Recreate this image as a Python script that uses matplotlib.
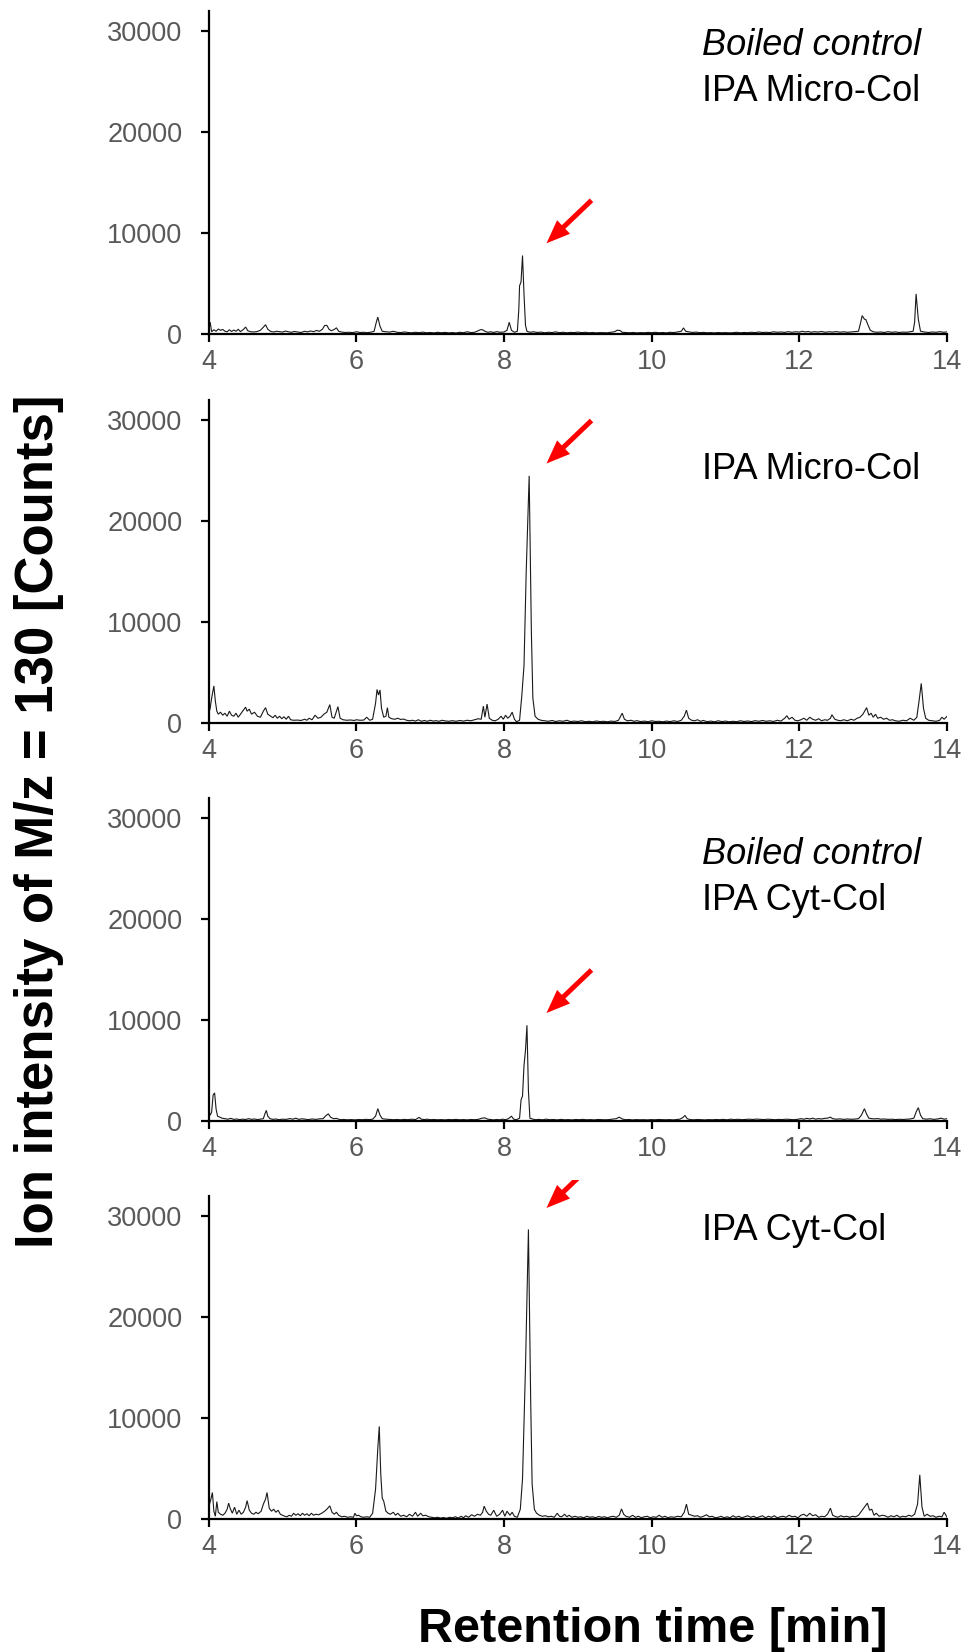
import matplotlib
matplotlib.use("Agg")
import matplotlib.pyplot as plt
import numpy as np
from matplotlib import font_manager as fm
from matplotlib.patches import Rectangle

plt.rcParams['font.family'] = ['Liberation Sans', 'DejaVu Sans']

# ---------------- data (retention time [min], counts) ----------------
boiled_micro = [
    (4.00, 300), (4.02, 1200), (4.04, 250), (4.07, 450), (4.10, 300), (4.13, 520), (4.16, 400), (4.19, 480),
    (4.22, 300), (4.25, 250), (4.28, 450), (4.31, 280), (4.34, 420), (4.37, 300), (4.40, 500), (4.43, 260),
    (4.47, 480), (4.50, 720), (4.53, 350), (4.57, 250), (4.61, 230), (4.65, 260), (4.70, 400), (4.74, 700),
    (4.77, 950), (4.80, 500), (4.84, 280), (4.88, 230), (4.92, 300), (4.96, 260), (5.00, 220), (5.04, 320),
    (5.08, 250), (5.12, 200), (5.16, 280), (5.20, 230), (5.25, 180), (5.30, 300), (5.34, 240), (5.38, 330),
    (5.42, 260), (5.46, 380), (5.50, 300), (5.54, 500), (5.57, 870), (5.60, 880), (5.63, 500), (5.66, 350),
    (5.70, 480), (5.73, 640), (5.76, 300), (5.80, 220), (5.85, 180), (5.90, 200), (5.95, 170), (6.00, 250),
    (6.05, 180), (6.10, 200), (6.15, 160), (6.20, 220), (6.24, 300), (6.27, 1200), (6.29, 1700), (6.32, 800),
    (6.35, 300), (6.40, 250), (6.45, 220), (6.50, 300), (6.55, 200), (6.60, 170), (6.65, 230), (6.70, 180),
    (6.75, 150), (6.80, 200), (6.85, 160), (6.90, 220), (6.95, 150), (7.00, 180), (7.05, 140), (7.10, 200),
    (7.15, 150), (7.20, 190), (7.25, 140), (7.30, 170), (7.35, 130), (7.40, 200), (7.45, 160), (7.50, 250),
    (7.55, 170), (7.60, 200), (7.65, 350), (7.68, 460), (7.71, 450), (7.74, 300), (7.78, 200), (7.82, 250),
    (7.86, 180), (7.90, 260), (7.95, 200), (8.00, 230), (8.04, 400), (8.07, 1190), (8.10, 400), (8.14, 200),
    (8.18, 300), (8.20, 2500), (8.21, 4800), (8.23, 5200), (8.25, 7800), (8.27, 4000), (8.29, 900), (8.31, 300),
    (8.35, 200), (8.40, 250), (8.45, 180), (8.50, 220), (8.55, 150), (8.60, 200), (8.65, 170), (8.70, 240),
    (8.75, 160), (8.80, 200), (8.85, 150), (8.90, 190), (8.95, 170), (9.00, 220), (9.05, 160), (9.10, 200),
    (9.15, 150), (9.20, 180), (9.25, 140), (9.30, 170), (9.35, 160), (9.40, 150), (9.45, 200), (9.50, 260),
    (9.53, 400), (9.57, 380), (9.60, 200), (9.65, 170), (9.70, 150), (9.75, 180), (9.80, 140), (9.85, 170),
    (9.90, 150), (9.95, 190), (10.00, 160), (10.05, 200), (10.10, 150), (10.15, 180), (10.20, 140), (10.25, 200),
    (10.30, 170), (10.35, 240), (10.40, 300), (10.43, 630), (10.46, 300), (10.50, 250), (10.55, 180), (10.60, 220),
    (10.65, 160), (10.70, 190), (10.75, 150), (10.80, 170), (10.85, 140), (10.90, 180), (10.95, 150), (11.00, 170),
    (11.05, 140), (11.10, 160), (11.15, 200), (11.20, 150), (11.25, 180), (11.30, 160), (11.35, 200), (11.40, 170),
    (11.45, 230), (11.50, 180), (11.55, 200), (11.60, 170), (11.65, 250), (11.70, 200), (11.75, 230), (11.80, 190),
    (11.85, 260), (11.90, 200), (11.95, 250), (12.00, 220), (12.04, 300), (12.08, 230), (12.12, 280), (12.16, 200),
    (12.20, 260), (12.25, 220), (12.30, 280), (12.35, 200), (12.40, 250), (12.45, 220), (12.50, 270), (12.55, 210),
    (12.60, 250), (12.65, 200), (12.70, 230), (12.75, 260), (12.80, 300), (12.83, 1200), (12.85, 1850), (12.88, 1500),
    (12.90, 1450), (12.93, 900), (12.96, 400), (13.00, 250), (13.05, 200), (13.10, 230), (13.15, 180), (13.20, 260),
    (13.25, 200), (13.30, 240), (13.35, 180), (13.40, 220), (13.45, 200), (13.50, 250), (13.54, 300), (13.56, 1200),
    (13.58, 4000), (13.61, 1500), (13.64, 300), (13.70, 220), (13.75, 180), (13.80, 230), (13.85, 200), (13.90, 260),
    (13.95, 200), (14.00, 240),
]

micro = [
    (4.00, 900), (4.02, 1500), (4.04, 2500), (4.07, 3700), (4.09, 2200), (4.11, 1200), (4.13, 900), (4.16, 1100),
    (4.19, 800), (4.22, 1000), (4.25, 700), (4.28, 1200), (4.31, 800), (4.34, 700), (4.37, 1000), (4.40, 600),
    (4.43, 900), (4.47, 1300), (4.50, 1600), (4.52, 1200), (4.55, 1400), (4.58, 900), (4.62, 1100), (4.66, 700),
    (4.70, 600), (4.74, 1200), (4.77, 1550), (4.80, 900), (4.84, 700), (4.87, 550), (4.90, 800), (4.93, 500),
    (4.96, 700), (4.99, 450), (5.02, 650), (5.05, 400), (5.08, 700), (5.11, 350), (5.15, 300), (5.20, 320),
    (5.25, 280), (5.30, 400), (5.33, 300), (5.36, 500), (5.40, 350), (5.44, 800), (5.48, 500), (5.52, 600),
    (5.56, 900), (5.60, 1100), (5.64, 1850), (5.67, 600), (5.70, 500), (5.75, 1650), (5.78, 500), (5.82, 350),
    (5.87, 300), (5.92, 330), (5.97, 280), (6.00, 350), (6.05, 300), (6.10, 320), (6.14, 600), (6.18, 300),
    (6.22, 400), (6.26, 2000), (6.28, 3350), (6.30, 2800), (6.32, 3300), (6.34, 1500), (6.37, 600), (6.40, 700),
    (6.42, 1550), (6.44, 600), (6.48, 450), (6.52, 400), (6.56, 500), (6.60, 380), (6.64, 420), (6.68, 300),
    (6.72, 250), (6.76, 300), (6.80, 220), (6.84, 350), (6.88, 200), (6.92, 280), (6.96, 200), (7.00, 300),
    (7.04, 220), (7.08, 260), (7.12, 200), (7.16, 300), (7.20, 240), (7.25, 200), (7.30, 260), (7.35, 200),
    (7.40, 280), (7.45, 220), (7.50, 300), (7.55, 250), (7.60, 350), (7.65, 450), (7.69, 400), (7.72, 1700),
    (7.74, 600), (7.77, 1900), (7.80, 500), (7.84, 300), (7.88, 250), (7.92, 400), (7.96, 700), (7.99, 400),
    (8.02, 800), (8.05, 500), (8.08, 700), (8.11, 1100), (8.14, 400), (8.17, 150), (8.21, 300), (8.24, 2700),
    (8.27, 5700), (8.30, 15000), (8.34, 24500), (8.37, 9000), (8.39, 2500), (8.42, 700), (8.46, 400), (8.50, 300),
    (8.55, 250), (8.60, 200), (8.65, 280), (8.70, 180), (8.75, 250), (8.80, 200), (8.85, 300), (8.90, 170),
    (8.95, 220), (9.00, 180), (9.05, 250), (9.10, 160), (9.15, 200), (9.20, 150), (9.25, 230), (9.30, 170),
    (9.35, 200), (9.40, 150), (9.45, 220), (9.50, 180), (9.55, 300), (9.60, 1000), (9.63, 400), (9.67, 250),
    (9.72, 300), (9.76, 200), (9.80, 260), (9.85, 170), (9.90, 220), (9.95, 160), (10.00, 250), (10.05, 180),
    (10.10, 200), (10.15, 150), (10.20, 220), (10.25, 170), (10.30, 250), (10.35, 180), (10.40, 300), (10.44, 700),
    (10.47, 1300), (10.50, 500), (10.54, 300), (10.58, 250), (10.62, 350), (10.66, 200), (10.70, 280), (10.75, 160),
    (10.80, 220), (10.85, 150), (10.90, 250), (10.95, 170), (11.00, 220), (11.05, 150), (11.10, 200), (11.15, 160),
    (11.20, 250), (11.25, 180), (11.30, 230), (11.35, 170), (11.40, 260), (11.45, 200), (11.50, 280), (11.55, 200),
    (11.60, 250), (11.65, 180), (11.70, 300), (11.75, 220), (11.80, 500), (11.83, 750), (11.86, 400), (11.90, 600),
    (11.94, 300), (11.98, 250), (12.02, 350), (12.06, 500), (12.10, 300), (12.14, 600), (12.18, 400), (12.22, 300),
    (12.26, 450), (12.30, 250), (12.34, 350), (12.38, 300), (12.42, 500), (12.44, 850), (12.48, 400), (12.52, 300),
    (12.56, 250), (12.60, 350), (12.65, 250), (12.70, 400), (12.74, 300), (12.78, 500), (12.82, 600), (12.86, 900),
    (12.91, 1550), (12.94, 800), (12.97, 1000), (13.00, 600), (13.03, 900), (13.06, 500), (13.10, 600), (13.14, 400),
    (13.18, 500), (13.22, 300), (13.26, 350), (13.30, 250), (13.35, 200), (13.40, 300), (13.45, 250), (13.50, 500),
    (13.55, 300), (13.59, 600), (13.62, 2200), (13.65, 3950), (13.68, 1500), (13.71, 500), (13.75, 300), (13.80, 250),
    (13.85, 200), (13.90, 300), (13.93, 600), (13.96, 400), (14.00, 700),
]

boiled_cyt = [
    (4.00, 1000), (4.02, 600), (4.04, 900), (4.06, 2600), (4.08, 2800), (4.10, 1200), (4.12, 500), (4.15, 400),
    (4.18, 300), (4.22, 250), (4.26, 200), (4.30, 280), (4.34, 180), (4.38, 220), (4.42, 160), (4.46, 200),
    (4.50, 170), (4.54, 250), (4.58, 180), (4.62, 220), (4.66, 160), (4.70, 200), (4.74, 250), (4.76, 700),
    (4.78, 1070), (4.80, 500), (4.83, 250), (4.87, 180), (4.91, 220), (4.95, 150), (5.00, 200), (5.05, 180),
    (5.10, 260), (5.14, 200), (5.18, 300), (5.22, 180), (5.26, 240), (5.30, 200), (5.35, 160), (5.40, 220),
    (5.45, 180), (5.50, 230), (5.55, 250), (5.58, 500), (5.62, 730), (5.65, 400), (5.69, 250), (5.73, 280),
    (5.78, 150), (5.83, 170), (5.88, 140), (5.93, 160), (5.98, 130), (6.03, 170), (6.08, 150), (6.13, 180),
    (6.18, 160), (6.22, 200), (6.26, 500), (6.29, 1240), (6.32, 600), (6.35, 250), (6.40, 200), (6.45, 180),
    (6.50, 150), (6.55, 170), (6.60, 140), (6.65, 180), (6.70, 150), (6.75, 200), (6.80, 160), (6.85, 380),
    (6.88, 200), (6.92, 160), (6.96, 200), (7.00, 150), (7.05, 170), (7.10, 140), (7.15, 160), (7.20, 130),
    (7.25, 170), (7.30, 150), (7.35, 180), (7.40, 140), (7.45, 160), (7.50, 130), (7.55, 170), (7.60, 150),
    (7.65, 180), (7.70, 300), (7.74, 330), (7.78, 200), (7.82, 160), (7.86, 130), (7.90, 170), (7.94, 140),
    (7.98, 200), (8.02, 150), (8.06, 250), (8.10, 500), (8.13, 200), (8.17, 150), (8.21, 300), (8.23, 2100),
    (8.25, 2500), (8.27, 5500), (8.29, 7000), (8.31, 9500), (8.33, 3000), (8.35, 300), (8.39, 200), (8.43, 150),
    (8.47, 180), (8.52, 140), (8.57, 200), (8.62, 150), (8.67, 170), (8.72, 130), (8.77, 180), (8.82, 140),
    (8.87, 160), (8.92, 130), (8.97, 170), (9.02, 150), (9.07, 180), (9.12, 140), (9.17, 160), (9.22, 130),
    (9.27, 170), (9.32, 150), (9.37, 140), (9.42, 160), (9.47, 200), (9.52, 250), (9.56, 400), (9.60, 220),
    (9.64, 150), (9.69, 170), (9.74, 130), (9.79, 160), (9.84, 140), (9.89, 150), (9.94, 130), (9.99, 160),
    (10.04, 140), (10.09, 170), (10.14, 150), (10.19, 140), (10.24, 160), (10.29, 130), (10.34, 170), (10.38, 200),
    (10.42, 350), (10.45, 570), (10.48, 250), (10.52, 160), (10.57, 140), (10.62, 170), (10.67, 150), (10.72, 130),
    (10.77, 160), (10.82, 140), (10.87, 170), (10.92, 150), (10.97, 180), (11.02, 140), (11.07, 200), (11.12, 160),
    (11.17, 190), (11.22, 150), (11.27, 180), (11.32, 200), (11.37, 170), (11.42, 210), (11.47, 180), (11.52, 160),
    (11.57, 200), (11.62, 170), (11.67, 150), (11.72, 180), (11.77, 160), (11.82, 200), (11.87, 170), (11.92, 150),
    (11.97, 180), (12.02, 250), (12.06, 200), (12.10, 280), (12.14, 220), (12.18, 300), (12.22, 200), (12.26, 260),
    (12.30, 220), (12.34, 280), (12.38, 300), (12.42, 400), (12.45, 250), (12.50, 200), (12.55, 230), (12.60, 180),
    (12.65, 220), (12.70, 190), (12.75, 210), (12.80, 250), (12.84, 600), (12.88, 1240), (12.91, 700), (12.94, 300),
    (12.98, 250), (13.02, 230), (13.06, 260), (13.10, 200), (13.15, 220), (13.20, 180), (13.25, 200), (13.30, 160),
    (13.35, 190), (13.40, 170), (13.45, 200), (13.50, 220), (13.55, 300), (13.58, 900), (13.61, 1340), (13.64, 600),
    (13.67, 250), (13.72, 200), (13.77, 240), (13.82, 180), (13.87, 220), (13.92, 300), (13.96, 200), (14.00, 250),
]

cyt = [
    (4.00, 1200), (4.03, 2000), (4.05, 2650), (4.07, 800), (4.09, 300), (4.11, 1750), (4.13, 700), (4.16, 500),
    (4.19, 400), (4.22, 600), (4.25, 1000), (4.27, 1600), (4.29, 1100), (4.32, 600), (4.35, 1200), (4.38, 500),
    (4.41, 900), (4.44, 500), (4.47, 700), (4.50, 1200), (4.52, 1850), (4.55, 900), (4.58, 600), (4.61, 500),
    (4.64, 700), (4.67, 550), (4.71, 800), (4.74, 1500), (4.77, 2000), (4.79, 2650), (4.82, 1100), (4.85, 800),
    (4.88, 1000), (4.91, 700), (4.94, 900), (4.97, 500), (5.00, 400), (5.03, 300), (5.06, 250), (5.09, 400),
    (5.12, 300), (5.15, 600), (5.18, 400), (5.21, 550), (5.24, 350), (5.27, 600), (5.30, 400), (5.33, 550),
    (5.36, 350), (5.39, 600), (5.42, 400), (5.45, 500), (5.49, 450), (5.53, 600), (5.57, 800), (5.60, 1000),
    (5.64, 1330), (5.67, 700), (5.70, 500), (5.73, 700), (5.76, 400), (5.80, 250), (5.84, 300), (5.88, 200),
    (5.92, 250), (5.96, 200), (5.98, 600), (6.00, 350), (6.03, 400), (6.06, 250), (6.10, 200), (6.14, 250),
    (6.18, 200), (6.22, 600), (6.26, 3000), (6.29, 7000), (6.31, 9200), (6.33, 4500), (6.35, 2100), (6.37, 1800),
    (6.40, 800), (6.43, 600), (6.46, 500), (6.50, 700), (6.53, 400), (6.56, 600), (6.60, 300), (6.64, 400),
    (6.68, 250), (6.72, 500), (6.76, 300), (6.80, 700), (6.83, 300), (6.87, 600), (6.90, 350), (6.94, 400),
    (6.98, 250), (7.02, 200), (7.06, 150), (7.10, 200), (7.14, 120), (7.18, 180), (7.22, 100), (7.26, 200),
    (7.30, 150), (7.34, 250), (7.38, 120), (7.42, 300), (7.45, 150), (7.48, 350), (7.52, 200), (7.56, 450),
    (7.60, 300), (7.64, 500), (7.68, 400), (7.71, 700), (7.73, 1300), (7.76, 800), (7.79, 500), (7.82, 400),
    (7.86, 900), (7.90, 300), (7.94, 500), (7.98, 900), (8.01, 300), (8.04, 800), (8.08, 400), (8.11, 700),
    (8.14, 300), (8.18, 200), (8.22, 1000), (8.25, 4000), (8.29, 15000), (8.33, 28700), (8.36, 12000), (8.38, 3500),
    (8.41, 1000), (8.44, 600), (8.48, 400), (8.52, 300), (8.56, 350), (8.60, 250), (8.64, 300), (8.68, 200),
    (8.72, 600), (8.75, 300), (8.78, 250), (8.82, 500), (8.85, 250), (8.88, 400), (8.92, 200), (8.96, 300),
    (9.00, 200), (9.04, 250), (9.08, 150), (9.12, 300), (9.16, 200), (9.20, 250), (9.24, 150), (9.28, 280),
    (9.32, 200), (9.36, 250), (9.40, 150), (9.44, 250), (9.48, 300), (9.52, 200), (9.56, 400), (9.59, 1030),
    (9.62, 500), (9.65, 300), (9.70, 200), (9.74, 400), (9.78, 200), (9.82, 300), (9.86, 150), (9.90, 250),
    (9.94, 300), (9.98, 150), (10.02, 250), (10.06, 200), (10.10, 400), (10.14, 200), (10.18, 300), (10.22, 150),
    (10.26, 250), (10.30, 200), (10.35, 300), (10.40, 250), (10.44, 700), (10.47, 1500), (10.50, 500), (10.54, 400),
    (10.58, 300), (10.62, 350), (10.66, 200), (10.70, 300), (10.74, 450), (10.78, 250), (10.82, 300), (10.86, 150),
    (10.90, 200), (10.94, 300), (10.98, 150), (11.02, 250), (11.06, 150), (11.10, 350), (11.14, 200), (11.18, 300),
    (11.22, 150), (11.26, 250), (11.30, 350), (11.34, 200), (11.38, 300), (11.42, 150), (11.46, 250), (11.50, 350),
    (11.54, 150), (11.58, 300), (11.62, 200), (11.66, 350), (11.70, 150), (11.74, 250), (11.78, 300), (11.82, 200),
    (11.86, 400), (11.90, 250), (11.94, 300), (11.98, 150), (12.02, 400), (12.06, 500), (12.10, 300), (12.14, 600),
    (12.18, 350), (12.22, 450), (12.26, 200), (12.30, 300), (12.34, 250), (12.38, 500), (12.42, 1100), (12.45, 400),
    (12.48, 300), (12.52, 200), (12.56, 350), (12.60, 250), (12.64, 300), (12.68, 200), (12.72, 300), (12.76, 250),
    (12.80, 400), (12.84, 800), (12.88, 1200), (12.92, 1600), (12.95, 900), (12.98, 1000), (13.01, 400), (13.04, 600),
    (13.08, 300), (13.12, 400), (13.16, 350), (13.20, 200), (13.24, 350), (13.28, 250), (13.32, 400), (13.36, 200),
    (13.40, 300), (13.44, 250), (13.48, 400), (13.52, 300), (13.56, 500), (13.60, 1500), (13.63, 4400), (13.66, 1200),
    (13.69, 300), (13.73, 500), (13.77, 300), (13.81, 350), (13.85, 200), (13.89, 300), (13.93, 250), (13.96, 700),
    (14.00, 200),
]

panel_traces = [boiled_micro, micro, boiled_cyt, cyt]
panel_italic_line = ["Boiled control", None, "Boiled control", None]
panel_sample_line = ["IPA Micro-Col", "IPA Micro-Col", "IPA Cyt-Col", "IPA Cyt-Col"]
x_ticks = [4, 6, 8, 10, 12, 14]
y_ticks = [0, 10000, 20000, 30000]
y_label = "Ion intensity of M/z = 130 [Counts]"
x_label = "Retention time [min]"

# ---------------- layout (pixels of a 967 x 1652 canvas) ----------------
W, H = 967, 1652
DPI = 100
ax_left_px, ax_right_px = 208.7, 947.1
zero_px = [334.3, 723.3, 1121.2, 1519.3]       # y pixel of count 0 per panel
px_per_30000 = 303.0
ylim_top = 32000
italic_base_px = [55.0, None, 864.0, None]
sample_base_px = [100.5, 479.3, 909.5, 1239.5]
text_x_px = 702.0
arrow_tip_px = [(546.5, 243.3), (546.5, 463.5), (546.5, 1013.0), (546.5, 1208.0)]
arrow_vec_px = (45, 43)
clip_top_px_last = 1180.0

fig = plt.figure(figsize=(W / DPI, H / DPI), dpi=DPI)
fig.patch.set_facecolor('white')

height_px = px_per_30000 * ylim_top / 30000.0
axes = []
for i in range(4):
    ax = fig.add_axes([ax_left_px / W, 1 - zero_px[i] / H,
                       (ax_right_px - ax_left_px) / W, height_px / H])
    axes.append(ax)
    t = np.array([p[0] for p in panel_traces[i]])
    c = np.array([p[1] for p in panel_traces[i]])
    ax.plot(t, c, color='#1a1a1a', lw=0.8, solid_joinstyle='miter')
    ax.set_xlim(4, 14)
    ax.set_ylim(0, ylim_top)
    ax.set_xticks(x_ticks)
    ax.set_xticklabels([str(v) for v in x_ticks])
    ax.set_yticks(y_ticks)
    ax.set_yticklabels([str(v) for v in y_ticks])
    for s in ['top', 'right']:
        ax.spines[s].set_visible(False)
    for s in ['left', 'bottom']:
        ax.spines[s].set_linewidth(1.6)
        ax.spines[s].set_color('black')
    ax.tick_params(axis='both', direction='out', length=6, width=1.6, color='black',
                   labelcolor='#595959', labelsize=19.5)
    ax.tick_params(axis='y', pad=13)
    ax.tick_params(axis='x', pad=4.5)
    ax.patch.set_alpha(0)

    counts_per_px = 30000.0 / px_per_30000
    tx = 4 + (text_x_px - ax_left_px) / ((ax_right_px - ax_left_px) / 10.0)
    if panel_italic_line[i] is not None:
        ax.text(tx, (zero_px[i] - italic_base_px[i]) * counts_per_px, panel_italic_line[i],
                fontsize=26, style='italic', ha='left', va='baseline', color='black')
    ax.text(tx, (zero_px[i] - sample_base_px[i]) * counts_per_px, panel_sample_line[i],
            fontsize=26, ha='left', va='baseline', color='black')

    tipx = 4 + (arrow_tip_px[i][0] - ax_left_px) / ((ax_right_px - ax_left_px) / 10.0)
    tipy = (zero_px[i] - arrow_tip_px[i][1]) * counts_per_px
    ann = ax.annotate('', xy=(tipx, tipy), xytext=arrow_vec_px, textcoords='offset pixels',
                      arrowprops=dict(arrowstyle='simple,head_length=1.7,head_width=1.35,tail_width=0.36',
                                      mutation_scale=10, color='#ff0000', lw=0,
                                      shrinkA=0, shrinkB=0))
    if i == 3:
        clip_rect = Rectangle((0, 0), 1, 1 - clip_top_px_last / H, transform=fig.transFigure,
                              facecolor='none', edgecolor='none')
        fig.add_artist(clip_rect)
        ann.arrow_patch.set_clip_on(True)
        ann.arrow_patch.set_clip_path(clip_rect)


def has_font(name):
    try:
        fm.findfont(fm.FontProperties(family=name), fallback_to_default=False)
        return True
    except Exception:
        return False


fig.text(52.7 / W, 1 - 821.0 / H, y_label, rotation=90, rotation_mode='anchor',
         ha='center', va='baseline', fontsize=38, fontweight='bold', color='black')

if has_font('Liberation Sans Narrow'):
    fig.text(652.5 / W, 1 - 1641.7 / H, x_label, ha='center', va='baseline',
             fontsize=40, fontweight='bold', family='Liberation Sans Narrow', color='black')
else:
    fig.text(652.5 / W, 1 - 1641.7 / H, x_label, ha='center', va='baseline',
             fontsize=35, fontweight='bold', color='black')

fig.savefig('out.png', dpi=DPI, facecolor='white')
